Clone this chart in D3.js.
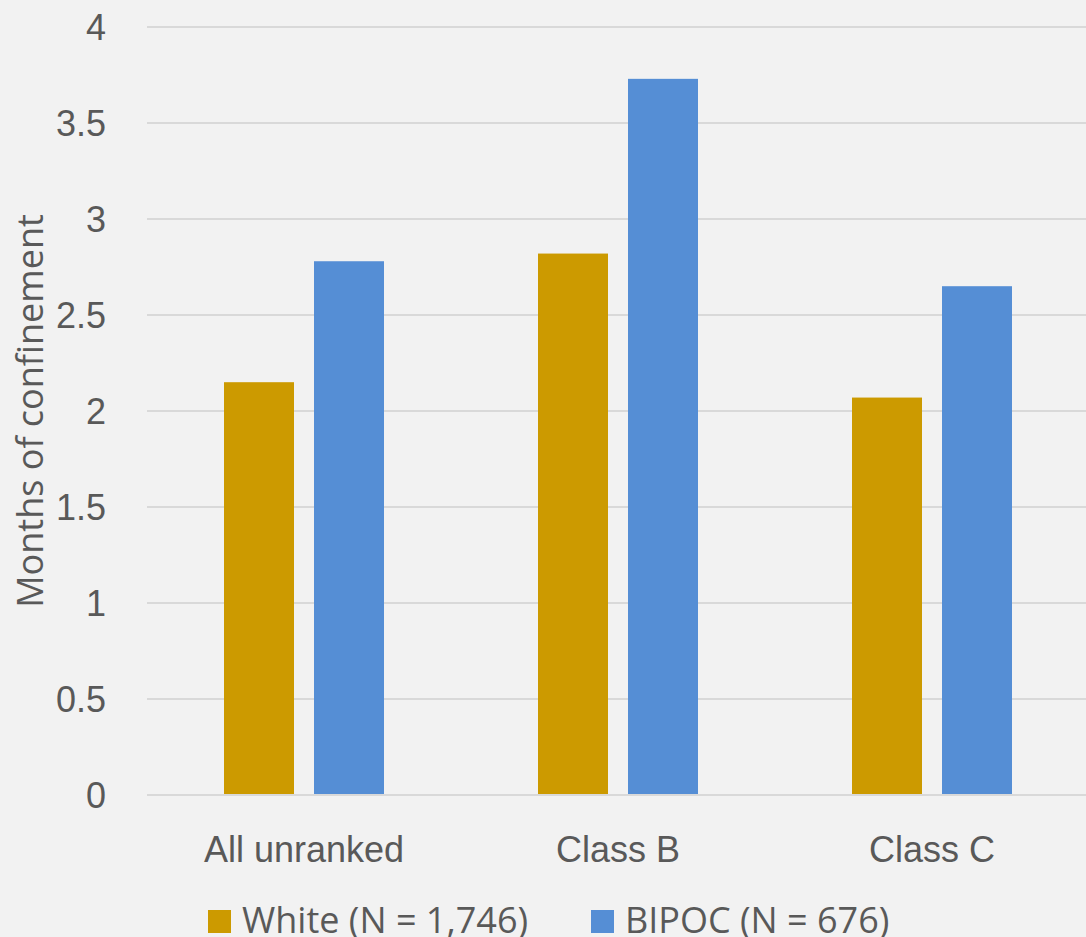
<!DOCTYPE html>
<html><head><meta charset="utf-8">
<script src="https://cdn.jsdelivr.net/npm/d3@7"></script>
<style>
html,body{margin:0;padding:0;background:#f2f2f2;}
svg{display:block;font-family:"Open Sans","Noto Sans",sans-serif;}
</style></head><body>
<svg id="chart" width="1086" height="937"></svg>
<script>
const categories = ["All unranked", "Class B", "Class C"];
const seriesNames = ["White (N = 1,746)", "BIPOC (N = 676)"];
const whiteValues = [2.15, 2.82, 2.07];
const bipocValues = [2.78, 3.73, 2.65];
const yTicks = [0, 0.5, 1, 1.5, 2, 2.5, 3, 3.5, 4];
const yTickLabels = ["0", "0.5", "1", "1.5", "2", "2.5", "3", "3.5", "4"];
const colors = ["#cc9a00", "#558ed5"];

const svg = d3.select("#chart");
const W = 1086, H = 937;
const FS = 36;
svg.append("rect").attr("width", W).attr("height", H).attr("fill", "#f2f2f2");

const x = d3.scaleBand().domain(categories).range([147, 1089]).paddingInner(0).paddingOuter(0);
const y = d3.scaleLinear().domain([0, 4]).range([795, 27]);
const series = [whiteValues, bipocValues];

// gridlines
svg.append("g").selectAll("line").data(yTicks).join("line")
  .attr("x1", 147).attr("x2", W)
  .attr("y1", d => y(d)).attr("y2", d => y(d))
  .attr("stroke", "#d9d9d9").attr("stroke-width", 2);

// y axis labels
const yAxis = d3.axisLeft(y).tickValues(yTicks).tickFormat((d, i) => yTickLabels[i]).tickSize(0).tickPadding(0);
const ga = svg.append("g").attr("transform", "translate(106,0)").call(yAxis);
ga.select(".domain").remove();
ga.selectAll("text").attr("font-size", FS).attr("fill", "#595959").attr("font-family", null).attr("dy", "0.35em");

// bars
const barW = 70, gap = 20;
series.forEach((vals, si) => {
  svg.append("g").selectAll("rect").data(vals).join("rect")
    .attr("x", (d, i) => x(categories[i]) + x.bandwidth() / 2 - gap / 2 - barW + si * (barW + gap))
    .attr("y", d => y(d))
    .attr("width", barW)
    .attr("height", d => y(0) - y(d))
    .attr("fill", colors[si]);
});

// x axis line
svg.append("line").attr("x1", 147).attr("x2", W).attr("y1", y(0)).attr("y2", y(0))
  .attr("stroke", "#d9d9d9").attr("stroke-width", 2);

// category labels
const xAxis = d3.axisBottom(x).tickSize(0).tickPadding(0);
const gx = svg.append("g").attr("transform", "translate(0,849)").call(xAxis);
gx.select(".domain").remove();
gx.selectAll("text").attr("font-size", FS).attr("fill", "#595959").attr("font-family", null).attr("dy", "0.35em");

// axis title
svg.append("text").attr("transform", "translate(30,411) rotate(-90)")
  .attr("text-anchor", "middle").attr("dy", "0.35em")
  .attr("font-size", FS).attr("fill", "#595959").text("Months of confinement");

// legend
const legendX = [208, 591];
const lg = svg.append("g");
seriesNames.forEach((name, i) => {
  lg.append("rect").attr("x", legendX[i]).attr("y", 910).attr("width", 23).attr("height", 23).attr("fill", colors[i]);
  lg.append("text").attr("x", legendX[i] + 34).attr("y", 920).attr("dy", "0.35em")
    .attr("font-size", FS).attr("fill", "#595959").text(name);
});
</script>
</body></html>
